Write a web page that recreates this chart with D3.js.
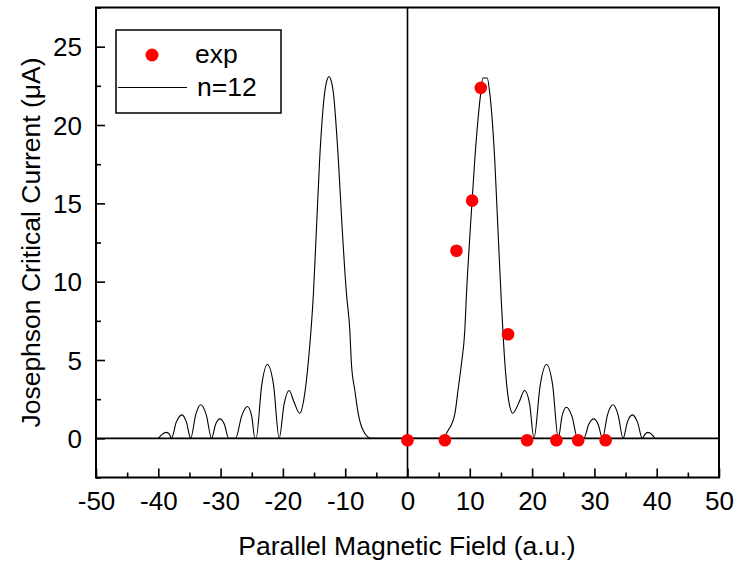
<!DOCTYPE html>
<html>
<head>
<meta charset="utf-8">
<script src="https://cdn.jsdelivr.net/npm/d3@7"></script>
<style>
  html, body { margin: 0; padding: 0; background: #fff; }
  svg text { font-family: "Liberation Sans", Arial, Helvetica, sans-serif; fill: #000; }
</style>
</head>
<body>
<svg id="chart" width="736" height="564"></svg>
<script>
// ---- data ----
const curveX = [
  -40.0, -39.4, -38.7, -38.2, -37.9, -37.1, -36.2, -35.5, -34.8, -34.0, -33.2, -32.3, -31.45,
  -30.8, -30.1, -29.4, -28.7, -27.6, -26.6, -25.7, -25.0, -24.5, -24.3, -23.4, -22.5, -21.5, -20.6,
  -19.8, -19.0, -18.2, -17.3, -16.5, -15.9, -15.1, -14.6, -14.1, -13.3, -12.9, -12.6, -12.3, -11.9,
  -11.1, -10.5, -9.8, -9.26, -9.0, -8.45, -7.9, -7.1, -5.8,
  5.45, 6.5, 7.6, 8.1, 8.66, 9.2, 9.47, 10.1, 10.8, 11.76, 12.1, 12.8, 13.2, 14.0, 14.5, 15.0, 15.6,
  16.2, 16.9, 17.9, 18.8, 19.6, 20.3, 21.3, 22.3, 23.3, 24.2, 24.8, 25.5, 26.4, 27.3, 28.3, 29.1,
  29.9, 30.6, 31.3, 32.1, 33.0, 33.8, 34.6, 35.3, 36.1, 36.9, 37.7, 38.1, 38.6, 39.2, 39.7
];
const curveY = [
  0, 0.25, 0.38, 0.25, 0, 1.05, 1.5, 1.05, 0, 1.5, 2.14, 1.5, 0,
  0.9, 1.24, 0.9, 0, 0, 1.45, 2.03, 1.4, 0, 0, 3.4, 4.71, 3.4, 0,
  2.2, 3.05, 2.3, 1.6, 2.84, 4.97, 9.24, 13.5, 17.8, 22.05, 22.9, 23.1, 22.9, 22.05,
  17.8, 13.5, 9.24, 6.9, 4.76, 3.05, 1.56, 0.49, 0,
  0, 0.49, 1.56, 3.05, 4.76, 6.9, 9.24, 13.5, 17.8, 22.05, 23.0, 23.0, 22.05, 17.8, 13.5, 9.24, 4.97,
  2.5, 1.6, 2.3, 3.05, 2.2, 0, 3.4, 4.71, 3.4, 0, 1.4, 1.98, 1.4, 0, 0, 0.9,
  1.24, 0.9, 0, 1.5, 2.14, 1.5, 0, 1.05, 1.5, 1.05, 0, 0.25, 0.38, 0.25, 0
];
const expX = [0, 6.0, 7.86, 10.37, 11.76, 16.14, 19.2, 23.9, 27.4, 31.8];
const expY = [-0.12, -0.12, 11.97, 15.17, 22.37, 6.64, -0.12, -0.12, -0.12, -0.12];
const xTicks = [-50, -40, -30, -20, -10, 0, 10, 20, 30, 40, 50];
const yTicks = [0, 5, 10, 15, 20, 25];
const legendLabels = ["exp", "n=12"];

// ---- layout ----
const svg = d3.select("#chart");
const L = 96, R = 719, T = 7.5, B = 477.5;
const x = d3.scaleLinear().domain([-50, 50]).range([L, R]);
const y = d3.scaleLinear().domain([-2.5, 27.5]).range([B, T]);

// zero lines
svg.append("line").attr("x1", L).attr("x2", R).attr("y1", y(0)).attr("y2", y(0))
  .attr("stroke", "#000").attr("stroke-width", 1.6);
svg.append("line").attr("x1", x(0)).attr("x2", x(0)).attr("y1", T).attr("y2", B)
  .attr("stroke", "#000").attr("stroke-width", 1.6);

// curve
const pts = curveX.map((v, i) => [v, curveY[i]]);
svg.append("path")
  .attr("d", d3.line().x(d => x(d[0])).y(d => y(d[1])).curve(d3.curveMonotoneX)(pts))
  .attr("fill", "none").attr("stroke", "#000").attr("stroke-width", 1.1);

// experimental points
svg.selectAll("circle.exp").data(expX.map((v, i) => [v, expY[i]])).enter()
  .append("circle").attr("class", "exp")
  .attr("cx", d => x(d[0])).attr("cy", d => y(d[1])).attr("r", 6.3)
  .attr("fill", "#ff0000");

// axes (ticks inward)
const fmt = d => String(d);
const xMinor = d3.range(-45, 50, 10);
const yMinor = d3.range(-2.5, 27.6, 5);
const gx = svg.append("g").attr("transform", `translate(0,${B})`)
  .call(d3.axisBottom(x).tickValues(xTicks).tickSize(-9).tickPadding(14).tickFormat(fmt));
const gxm = svg.append("g").attr("transform", `translate(0,${B})`)
  .call(d3.axisBottom(x).tickValues(xMinor).tickSize(-5).tickFormat(""));
const gy = svg.append("g").attr("transform", `translate(${L},0)`)
  .call(d3.axisLeft(y).tickValues(yTicks).tickSize(-9).tickPadding(14).tickFormat(fmt));
const gym = svg.append("g").attr("transform", `translate(${L},0)`)
  .call(d3.axisLeft(y).tickValues(yMinor).tickSize(-5).tickFormat(""));
[gx, gxm, gy, gym].forEach(g => {
  g.select(".domain").remove();
  g.selectAll(".tick line").attr("stroke", "#000").attr("stroke-width", 1.6);
  g.selectAll("text").attr("font-size", 26).attr("font-family", "Liberation Sans, Arial, sans-serif");
});
gy.selectAll("text").attr("dy", "0.35em");

// frame
svg.append("rect").attr("x", L).attr("y", T).attr("width", R - L).attr("height", B - T)
  .attr("fill", "none").attr("stroke", "#000").attr("stroke-width", 2);

// axis titles
svg.append("text").attr("x", (L + R) / 2 - 0.5).attr("y", 555).attr("text-anchor", "middle")
  .attr("font-size", 26.5).text("Parallel Magnetic Field (a.u.)");
svg.append("text").attr("transform", `translate(40,${(T + B) / 2}) rotate(-90)`)
  .attr("text-anchor", "middle").attr("font-size", 26.5)
  .text("Josephson Critical Current (μA)");

// legend
const lg = svg.append("g");
lg.append("rect").attr("x", 116).attr("y", 30).attr("width", 165).attr("height", 83)
  .attr("fill", "#fff").attr("stroke", "#000").attr("stroke-width", 1.5);
lg.append("circle").attr("cx", 152).attr("cy", 55).attr("r", 6.5).attr("fill", "#ff0000");
lg.append("text").attr("x", 195).attr("y", 63).attr("font-size", 26.5).text(legendLabels[0]);
lg.append("line").attr("x1", 118).attr("x2", 187).attr("y1", 87.5).attr("y2", 87.5)
  .attr("stroke", "#000").attr("stroke-width", 1.1);
lg.append("text").attr("x", 197).attr("y", 96).attr("font-size", 26.5).text(legendLabels[1]);
</script>
</body>
</html>
